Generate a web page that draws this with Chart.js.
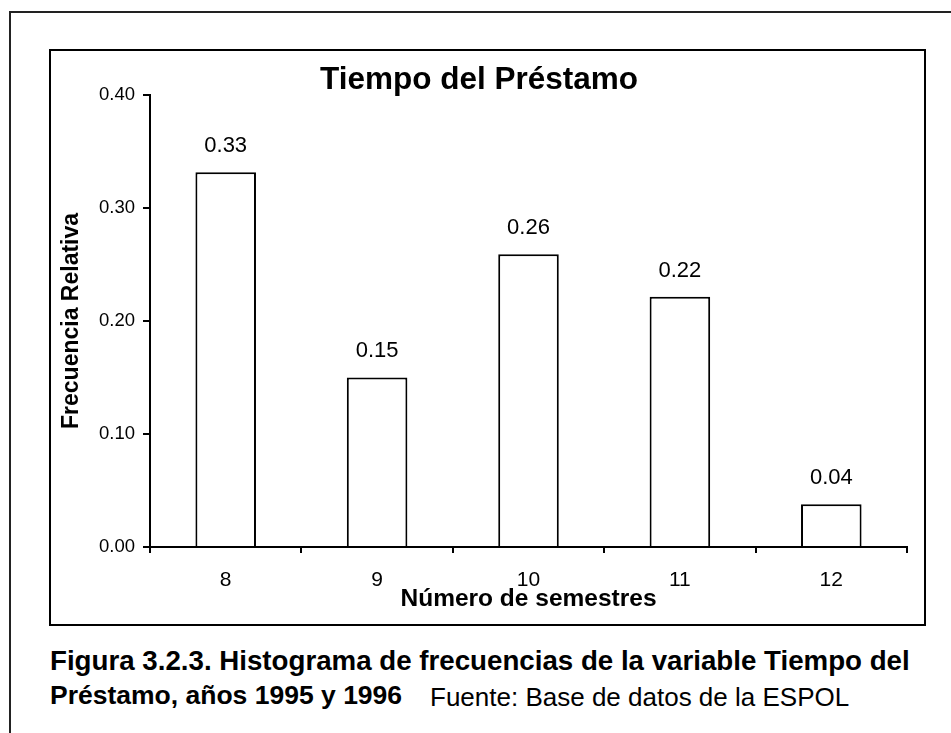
<!DOCTYPE html>
<html>
<head>
<meta charset="utf-8">
<script src="https://cdn.jsdelivr.net/npm/chart.js@4.4.0/dist/chart.umd.min.js"></script>
<style>
html,body{margin:0;padding:0;background:#fff;}
body{width:951px;height:733px;overflow:hidden;position:relative;font-family:"Liberation Sans",Arial,sans-serif;color:#000;}
#outer{position:absolute;left:9px;top:11px;width:1000px;height:800px;border-left:2px solid #222;border-top:2px solid #222;}
#box{position:absolute;left:49px;top:49px;width:877px;height:577px;border:2px solid #000;box-sizing:border-box;}
#wrap{position:absolute;left:51px;top:51px;width:873px;height:573px;}
.cap{position:absolute;white-space:nowrap;}
#c1{left:50px;top:647px;font-size:27.7px;line-height:27.7px;font-weight:bold;}
#c2{left:50px;top:682px;font-size:26.5px;line-height:26.5px;font-weight:bold;}
#c3{left:430px;top:684px;font-size:26px;line-height:26px;}
</style>
</head>
<body>
<div id="outer"></div>
<div id="box"></div>
<div id="wrap"><canvas id="chart" width="873" height="573"></canvas></div>
<div class="cap" id="c1">Figura 3.2.3. Histograma de frecuencias de la variable Tiempo del</div>
<div class="cap" id="c2">Préstamo, años 1995 y 1996</div>
<div class="cap" id="c3">Fuente: Base de datos de la ESPOL</div>
<script>
const categories = ['8', '9', '10', '11', '12'];
const frequencies = [0.3315, 0.150, 0.259, 0.2214, 0.0378];
const yTicks = [0.00, 0.10, 0.20, 0.30, 0.40];
const chartTitle = 'Tiempo del Préstamo';
const xTitle = 'Número de semestres';
const yTitle = 'Frecuencia Relativa';

const FONT = '"Liberation Sans", Arial, sans-serif';
Chart.defaults.font.family = FONT;
Chart.defaults.color = '#000';

const valueLabels = {
  id: 'valueLabels',
  afterDatasetsDraw(chart) {
    const ctx = chart.ctx;
    const meta = chart.getDatasetMeta(0);
    ctx.save();
    ctx.font = '22px ' + FONT;
    ctx.fillStyle = '#000';
    ctx.textAlign = 'center';
    ctx.textBaseline = 'alphabetic';
    meta.data.forEach((bar, i) => {
      ctx.fillText(frequencies[i].toFixed(2), bar.x, bar.y - 20);
    });
    ctx.restore();
  }
};

new Chart(document.getElementById('chart'), {
  type: 'bar',
  data: {
    labels: categories,
    datasets: [{
      data: frequencies,
      backgroundColor: '#fff',
      borderColor: '#000',
      borderWidth: 2,
      borderSkipped: 'bottom',
      categoryPercentage: 1.0,
      barPercentage: 0.4
    }]
  },
  options: {
    responsive: false,
    animation: false,
    devicePixelRatio: 1,
    layout: { padding: { left: 0, right: 17, top: 0, bottom: 0 } },
    plugins: {
      legend: { display: false },
      tooltip: { enabled: false },
      title: {
        display: true,
        text: chartTitle,
        color: '#000',
        font: { size: 31.5, weight: 'bold', lineHeight: 0.9 },
        padding: { top: 15.6, bottom: 0 }
      }
    },
    scales: {
      x: {
        offset: true,
        grid: { offset: true, drawOnChartArea: false, drawTicks: true, tickLength: 6, color: '#000', lineWidth: 2 },
        border: { display: true, color: '#000', width: 2 },
        ticks: { color: '#000', font: { size: 21 }, padding: 15, maxRotation: 0 },
        title: { display: true, text: xTitle, color: '#000', font: { size: 24.5, weight: 'bold' }, padding: { top: 0, bottom: 9.8 } },
        afterFit(s) { s.height = 77; }
      },
      y: {
        min: 0,
        max: 0.4,
        afterBuildTicks(s) { s.ticks = yTicks.map(v => ({ value: v })); },
        ticks: { color: '#000', font: { size: 18.5 }, padding: 8, callback: v => Number(v).toFixed(2) },
        grid: { drawOnChartArea: false, drawTicks: true, tickLength: 7, color: '#000', lineWidth: 2 },
        border: { display: true, color: '#000', width: 2 },
        title: { display: true, text: yTitle, color: '#000', font: { size: 23, weight: 'bold' }, padding: { top: 7, bottom: 0 } },
        afterFit(s) { s.width = 99; }
      }
    }
  },
  plugins: [valueLabels]
});
</script>
</body>
</html>
